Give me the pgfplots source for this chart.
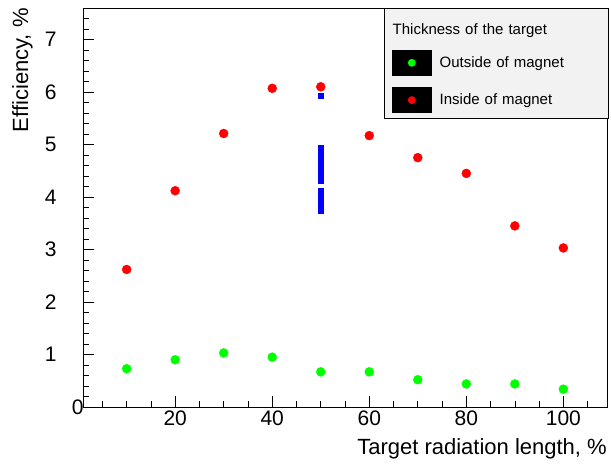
\documentclass[border=0pt]{standalone}
\usepackage{pgfplots}
\pgfplotsset{compat=1.18}
\usepackage{fontspec}
\setmainfont{Liberation Sans}
\definecolor{rootgreen}{RGB}{0,255,0}
\definecolor{rootred}{RGB}{255,0,0}
\definecolor{rootblue}{RGB}{0,0,255}
\definecolor{legendgray}{RGB}{242,242,242}
\begin{document}
\begin{tikzpicture}
\begin{axis}[
  scale only axis, width=524pt, height=399pt,
  xmin=1, xmax=109, ymin=0, ymax=7.6,
  clip=false,
  xtick={20,40,60,80,100},
  minor xtick={5,10,...,105},
  ytick={1,2,...,7},
  minor ytick={0.2,0.4,...,7.5},
  extra y ticks={0},
  extra y tick style={yticklabel style={xshift=27pt}},
  tick align=inside, xtick pos=bottom, ytick pos=left,
  major tick length=11pt, minor tick length=6pt,
  tick style={black, line width=0.6pt},
  axis line style={black, line width=0.8pt},
  tick label style={font=\fontsize{21}{25}\selectfont},
  yticklabel style={xshift=-23pt},
  /pgf/number format/assume math mode=true,
  xlabel={Target radiation length, \%},
  ylabel={Efficiency, \%},
  label style={font=\fontsize{22}{26}\selectfont},
  xlabel style={at={(rel axis cs:1,-0.078)}, anchor=north east, inner sep=0pt},
  ylabel style={at={(rel axis cs:-0.1355,1)}, anchor=north east, rotate=0, inner sep=0pt},
  legend style={at={(rel axis cs:1.004,1.0)}, anchor=north east, draw=black, line width=0.8pt,
    fill=legendgray, font=\fontsize{15}{18}\selectfont, inner xsep=8pt, inner ysep=5pt,
    row sep=11.5pt, column sep=6pt, cells={anchor=west, text width=159pt}},
]
\addlegendimage{legend image code/.code={%
  \path[draw=none, fill=none] (0pt,-9pt) rectangle (39pt,16pt);
  \node[overlay, draw=none, fill=none, anchor=base west, inner sep=0pt, font=\fontsize{15}{18}\selectfont] at (0pt,-5pt) {Thickness of the target};}}
\addlegendentry{}
\addplot[only marks, mark=*, mark size=4.5pt, color=rootgreen,
  legend image code/.code={%
    \fill[black] (0pt,-12.5pt) rectangle (39pt,12.5pt);
    \fill[rootgreen] (19.5pt,0pt) circle (3.5pt);}]
  coordinates {(10,0.73) (20,0.90) (30,1.03) (40,0.95) (50,0.67) (60,0.67) (70,0.52) (80,0.44) (90,0.44) (100,0.34)};
\addlegendentry{Outside of magnet}
\addplot[only marks, mark=square*, mark size=2.3pt, color=rootblue, forget plot,
  error bars/.cd, y dir=both, y explicit,
  error bar style={black, line width=0.8pt}, error mark options={black, mark size=2.4pt, rotate=90}]
  coordinates {(50,5.93) +- (0,0.05)
   (50,4.95) +- (0,0.04) (50,4.87) +- (0,0.04) (50,4.79) +- (0,0.04) (50,4.71) +- (0,0.04)
   (50,4.63) +- (0,0.04) (50,4.55) +- (0,0.04) (50,4.47) +- (0,0.04) (50,4.39) +- (0,0.04)
   (50,4.31) +- (0,0.04)
   (50,4.12) +- (0,0.04) (50,4.04) +- (0,0.04) (50,3.96) +- (0,0.04) (50,3.88) +- (0,0.04)
   (50,3.80) +- (0,0.04) (50,3.74) +- (0,0.04)};
\addplot[only marks, mark=*, mark size=4.5pt, color=rootred,
  legend image code/.code={%
    \fill[black] (0pt,-12.5pt) rectangle (39pt,12.5pt);
    \fill[rootred] (19.5pt,0pt) circle (3.5pt);}]
  coordinates {(10,2.62) (20,4.12) (30,5.21) (40,6.07) (50,6.10) (60,5.17) (70,4.75) (80,4.45) (90,3.45) (100,3.03)};
\addlegendentry{Inside of magnet}
\path (rel axis cs:-0.1584,-0.1504) rectangle (rel axis cs:1.0076,1.0201);
\end{axis}
\end{tikzpicture}
\end{document}
